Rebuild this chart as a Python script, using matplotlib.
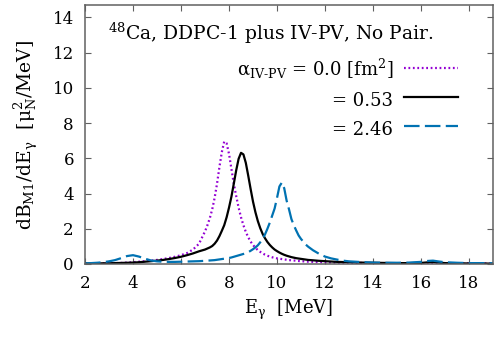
import numpy as np
import matplotlib
matplotlib.use("Agg")
import matplotlib.pyplot as plt

plt.rcParams["font.family"] = "DejaVu Serif"
plt.rcParams["mathtext.fontset"] = "dejavuserif"

# photon energy grid [MeV]
e_gamma = [2.0, 2.25, 2.5, 2.75, 3.0, 3.25, 3.5, 3.75, 4.0, 4.25, 4.5, 4.75,
           5.0, 5.25, 5.5, 5.75, 6.0, 6.25, 6.5, 6.75,
           7.0, 7.1, 7.2, 7.3, 7.4, 7.5, 7.6, 7.7, 7.8, 7.9,
           8.0, 8.1, 8.2, 8.3, 8.4, 8.5, 8.6, 8.7, 8.8, 8.9,
           9.0, 9.1, 9.2, 9.3, 9.4, 9.5, 9.6, 9.7, 9.8, 9.9,
           10.0, 10.1, 10.2, 10.3, 10.4, 10.5, 10.6, 10.7, 10.8, 10.9,
           11.0, 11.1, 11.2, 11.3, 11.4, 11.5,
           11.75, 12.0, 12.25, 12.5, 12.75, 13.0, 13.5, 14.0, 14.5, 15.0,
           15.5, 16.0, 16.25, 16.5, 16.75, 17.0, 17.5, 18.0, 18.5, 19.0]

# alpha_IV-PV = 0.0 fm^2
s_000 = [0.02, 0.02, 0.03, 0.03, 0.04, 0.05, 0.06, 0.08, 0.10, 0.13, 0.16, 0.19,
         0.23, 0.28, 0.34, 0.41, 0.50, 0.62, 0.82, 1.15,
         1.85, 2.20, 2.60, 3.10, 3.75, 4.55, 5.50, 6.35, 6.95, 6.85,
         6.25, 5.40, 4.55, 3.85, 3.20, 2.65, 2.20, 1.82, 1.52, 1.27,
         1.08, 0.92, 0.79, 0.69, 0.60, 0.53, 0.47, 0.42, 0.38, 0.35,
         0.32, 0.30, 0.28, 0.26, 0.24, 0.22, 0.21, 0.20, 0.18, 0.17,
         0.16, 0.15, 0.14, 0.13, 0.13, 0.12,
         0.11, 0.10, 0.09, 0.08, 0.07, 0.07, 0.06, 0.05, 0.05, 0.04,
         0.04, 0.04, 0.05, 0.05, 0.04, 0.04, 0.03, 0.03, 0.03, 0.02]

# alpha_IV-PV = 0.53 fm^2
s_053 = [0.03, 0.03, 0.03, 0.04, 0.04, 0.05, 0.06, 0.07, 0.08, 0.10, 0.13, 0.16,
         0.19, 0.23, 0.28, 0.34, 0.41, 0.50, 0.60, 0.72,
         0.82, 0.88, 0.94, 1.02, 1.15, 1.33, 1.58, 1.88, 2.20, 2.65,
         3.20, 3.82, 4.56, 5.32, 5.97, 6.31, 6.22, 5.74, 5.02, 4.26,
         3.54, 2.94, 2.44, 2.04, 1.71, 1.46, 1.25, 1.08, 0.94, 0.82,
         0.73, 0.65, 0.58, 0.52, 0.47, 0.43, 0.39, 0.36, 0.33, 0.31,
         0.29, 0.27, 0.25, 0.23, 0.22, 0.21,
         0.18, 0.16, 0.14, 0.12, 0.11, 0.10, 0.08, 0.07, 0.06, 0.05,
         0.05, 0.06, 0.09, 0.11, 0.08, 0.05, 0.04, 0.03, 0.03, 0.02]

# alpha_IV-PV = 2.46 fm^2
s_246 = [0.03, 0.05, 0.07, 0.10, 0.15, 0.22, 0.33, 0.45, 0.50, 0.42, 0.30, 0.20,
         0.15, 0.13, 0.12, 0.12, 0.13, 0.14, 0.15, 0.16,
         0.18, 0.19, 0.20, 0.21, 0.22, 0.24, 0.26, 0.28, 0.30, 0.32,
         0.34, 0.37, 0.41, 0.45, 0.49, 0.53, 0.57, 0.61, 0.67, 0.75,
         0.84, 0.94, 1.06, 1.23, 1.43, 1.68, 2.00, 2.35, 2.75, 3.15,
         3.75, 4.40, 4.62, 4.30, 3.60, 3.10, 2.55, 2.20, 1.90, 1.62,
         1.42, 1.26, 1.10, 0.98, 0.88, 0.78,
         0.58, 0.42, 0.32, 0.25, 0.19, 0.15, 0.11, 0.08, 0.07, 0.07,
         0.08, 0.12, 0.17, 0.19, 0.14, 0.10, 0.07, 0.05, 0.05, 0.04]

x_ticks = [2, 4, 6, 8, 10, 12, 14, 16, 18]
y_ticks = [0, 2, 4, 6, 8, 10, 12, 14]

fig = plt.figure(figsize=(4.98, 3.48), dpi=100)
ax = fig.add_axes([0.1707, 0.2414, 0.8193, 0.7442])

ax.plot(e_gamma, s_000, color="#9400d3", lw=1.6, ls=(0, (0.8, 1.2)),
        label=r"$\mathrm{α}_{\mathrm{IV}\text{-}\mathrm{PV}}$ = 0.0 [fm$^2$]")
ax.plot(e_gamma, s_053, color="black", lw=1.6,
        label="= 0.53")
ax.plot(e_gamma, s_246, color="#0072b2", lw=1.6, ls=(0, (7, 2.4)),
        label="= 2.46")

ax.set_xlim(2, 19)
ax.set_ylim(0, 14.7)
ax.set_xticks(x_ticks)
ax.set_yticks(y_ticks)
ax.tick_params(direction="in", length=4, width=0.8, color="#606060",
               top=True, right=True, labelsize=12)
ax.tick_params(axis="x", pad=8)
ax.tick_params(axis="y", pad=8)
for sp in ax.spines.values():
    sp.set_color("#606060")
    sp.set_linewidth(1.1)

ax.set_xlabel(r"E$_{\mathrm{γ}}$  [MeV]", fontsize=13, labelpad=4)
ax.set_ylabel(r"dB$_{\mathrm{M1}}$/dE$_{\mathrm{γ}}$  [$\mathrm{μ}^2_{\mathrm{N}}$/MeV]",
              fontsize=13.5, labelpad=9)

ax.text(0.056, 0.892, r"$^{48}$Ca, DDPC-1 plus IV-PV, No Pair.",
        transform=ax.transAxes, fontsize=13.5, va="center", ha="left")

ax.legend(loc="upper right", bbox_to_anchor=(0.937, 0.835), frameon=False,
          markerfirst=False, fontsize=13, borderpad=0, handlelength=3.0,
          handleheight=1.4, labelspacing=0.45, handletextpad=0.6)

fig.savefig("out.png", dpi=100)
